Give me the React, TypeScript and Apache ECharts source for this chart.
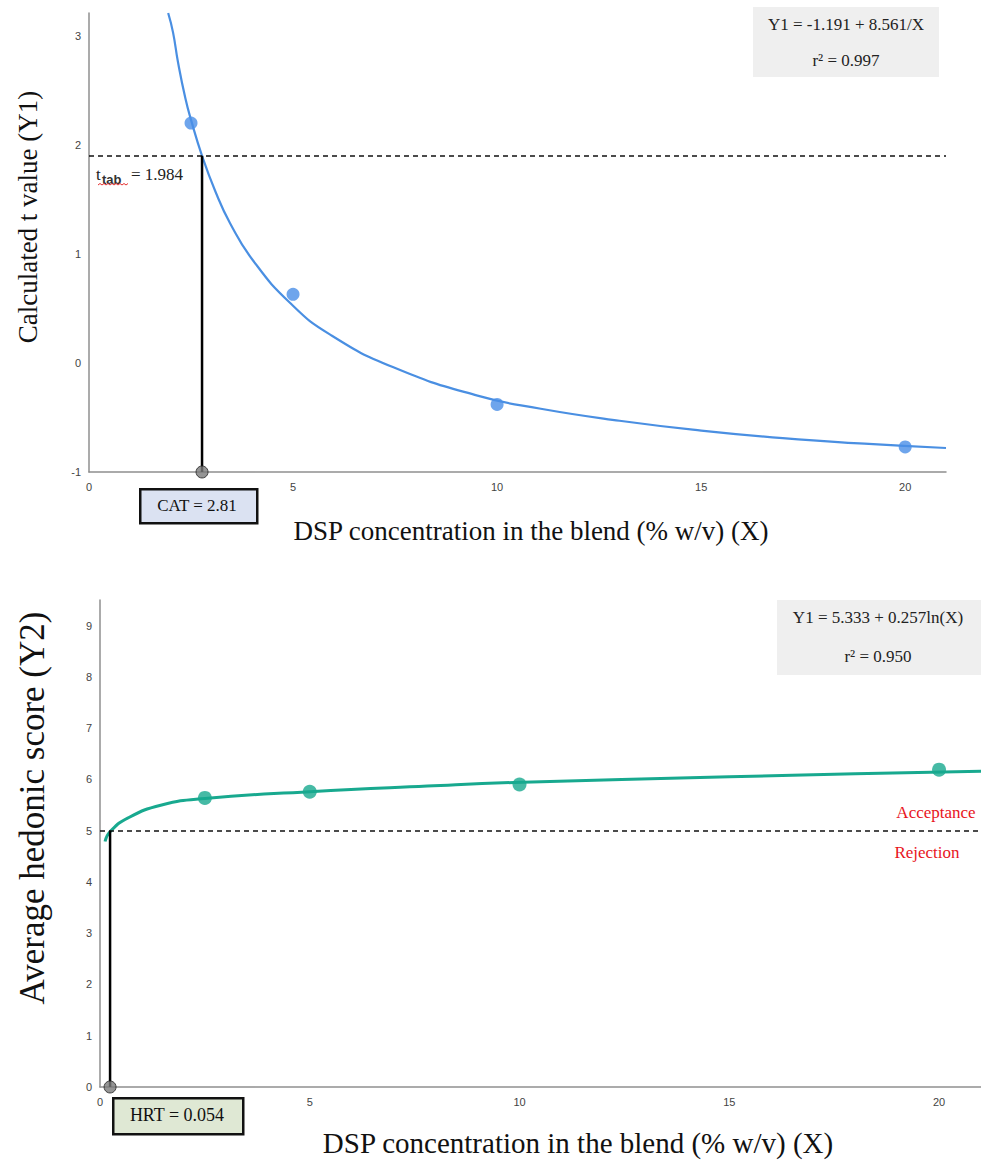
import React, { useEffect, useRef } from "react";
import * as echarts from "echarts";

// ---------- Data ----------
const xTicks = [0, 5, 10, 15, 20];

// Top panel: calculated t value (Y1)
const topObsX = [2.5, 5, 10, 20];
const topObsY = [2.2, 0.63, -0.38, -0.77];
const topFitX = [1.94, 2.06, 2.18, 2.36, 2.5, 2.77, 3.09, 3.46, 4.02, 4.93, 5.91, 7.46, 9.52, 11.07, 13, 15, 17, 19, 21];
const topFitY = [3.21, 3.03, 2.76, 2.43, 2.23, 1.9, 1.58, 1.28, 0.94, 0.55, 0.26, -0.04, -0.3, -0.42, -0.53, -0.62, -0.69, -0.74, -0.78];
const tTabLine = 1.9; // drawn position of t_tab = 1.984
const catX = 2.77; // drawn position of CAT = 2.81

// Bottom panel: average hedonic score (Y2)
const botObsX = [2.5, 5, 10, 20];
const botObsY = [5.64, 5.76, 5.9, 6.19];
const botFitX = [0.12, 0.24, 0.67, 1.47, 2.5, 5, 7.8, 9.87, 15, 18, 21];
const botFitY = [4.79, 4.98, 5.25, 5.5, 5.63, 5.76, 5.87, 5.94, 6.05, 6.11, 6.16];
const acceptLine = 5.0;
const hrtX = 0.24; // drawn position of HRT = 0.054

const SERIF = "'Liberation Serif', 'Times New Roman', serif";
const SANS = "'Liberation Sans', Arial, sans-serif";

const zip = (xs: number[], ys: number[]) => xs.map((x, i) => [x, ys[i]]);

export default function App() {
  const ref = useRef<HTMLDivElement>(null);

  useEffect(() => {
    if (!ref.current) return;
    const chart = echarts.init(ref.current, undefined, { renderer: "svg" });

    const axisLine = { show: true, onZero: false, lineStyle: { color: "#8f8f8f", width: 1.5 } };
    const tickLabel = { color: "#444", fontSize: 11, fontFamily: SANS };

    const xAxisBase = (grid: number) => ({
      type: "value",
      gridIndex: grid,
      min: 0,
      max: 21,
      interval: 5,
      axisLine,
      axisTick: { show: false },
      splitLine: { show: false },
      axisLabel: {
        ...tickLabel,
        margin: 9,
        showMaxLabel: false,
        formatter: (v: number) => (xTicks.includes(v) ? String(v) : ""),
      },
    });

    const yAxisBase = (grid: number, min: number, max: number) => ({
      type: "value",
      gridIndex: grid,
      min,
      max,
      interval: 1,
      axisLine,
      axisTick: { show: false },
      splitLine: { show: false },
      axisLabel: {
        ...tickLabel,
        margin: 8,
        showMaxLabel: false,
        formatter: (v: number) => (Number.isInteger(v) ? String(v) : ""),
      },
    });

    const txt = (x: number, y: number, text: string, size: number, fill = "#111", extra: any = {}) => ({
      type: "text",
      x,
      y,
      z: 8,
      ...extra,
      style: { text, font: `${size}px ${SERIF}`, fill, align: "center", verticalAlign: "middle" },
    });

    const option: any = {
      animation: false,
      backgroundColor: "#fff",
      grid: [
        { left: 89, right: 35, top: 13, bottom: 695 },
        { left: 100, right: 0, top: 600, bottom: 80 },
      ],
      xAxis: [xAxisBase(0), xAxisBase(1)],
      yAxis: [yAxisBase(0, -1, 3.21), yAxisBase(1, 0, 9.5)],
      series: [
        // ---- top panel ----
        {
          type: "line",
          xAxisIndex: 0,
          yAxisIndex: 0,
          data: zip(topFitX, topFitY),
          smooth: 0.5,
          symbol: "none",
          lineStyle: { color: "#4a8fe2", width: 2.2 },
          z: 3,
          markLine: {
            silent: true,
            symbol: "none",
            label: { show: false },
            lineStyle: { color: "#111", type: [5, 4], width: 1.5 },
            data: [{ yAxis: tTabLine }],
          },
        },
        {
          type: "scatter",
          xAxisIndex: 0,
          yAxisIndex: 0,
          data: zip(topObsX, topObsY),
          symbolSize: 13,
          itemStyle: { color: "#4a8fe7" },
          z: 4,
        },
        {
          type: "line",
          xAxisIndex: 0,
          yAxisIndex: 0,
          data: [
            [catX, tTabLine],
            [catX, -1],
          ],
          symbol: "none",
          lineStyle: { color: "#000", width: 2.5 },
          z: 5,
        },
        {
          type: "scatter",
          xAxisIndex: 0,
          yAxisIndex: 0,
          data: [[catX, -1]],
          clip: false,
          symbolSize: 12,
          itemStyle: { color: "#7b7b7b", borderColor: "#222", borderWidth: 1 },
          z: 6,
        },
        // ---- bottom panel ----
        {
          type: "line",
          xAxisIndex: 1,
          yAxisIndex: 1,
          data: zip(botFitX, botFitY),
          smooth: 0.5,
          symbol: "none",
          lineStyle: { color: "#18a98f", width: 3 },
          z: 3,
          markLine: {
            silent: true,
            symbol: "none",
            label: { show: false },
            lineStyle: { color: "#111", type: [5, 4], width: 1.5 },
            data: [{ yAxis: acceptLine }],
          },
        },
        {
          type: "scatter",
          xAxisIndex: 1,
          yAxisIndex: 1,
          data: zip(botObsX, botObsY),
          symbolSize: 14,
          itemStyle: { color: "#18a98f" },
          z: 4,
        },
        {
          type: "line",
          xAxisIndex: 1,
          yAxisIndex: 1,
          data: [
            [hrtX, acceptLine],
            [hrtX, 0],
          ],
          symbol: "none",
          lineStyle: { color: "#000", width: 2.5 },
          z: 5,
        },
        {
          type: "scatter",
          xAxisIndex: 1,
          yAxisIndex: 1,
          data: [[hrtX, 0]],
          clip: false,
          symbolSize: 12,
          itemStyle: { color: "#7b7b7b", borderColor: "#222", borderWidth: 1 },
          z: 6,
        },
      ],
      graphic: [
        // axis titles
        txt(531, 531, "DSP concentration in the blend (% w/v) (X)", 27),
        txt(578, 1143, "DSP concentration in the blend (% w/v) (X)", 29),
        txt(28, 217, "Calculated t value (Y1)", 27, "#111", { rotation: Math.PI / 2 }),
        txt(32, 808, "Average hedonic score (Y2)", 35, "#111", { rotation: Math.PI / 2 }),
        // top equation box
        { type: "rect", left: 753, top: 7, shape: { width: 186, height: 70 }, style: { fill: "#efefef" }, z: 1 },
        txt(846, 24, "Y1 = -1.191 + 8.561/X", 17, "#222"),
        txt(846, 60, "r² = 0.997", 17, "#222"),
        // t_tab label
        { type: "text", x: 96, y: 174, style: { text: "t", font: `17px ${SERIF}`, fill: "#222", align: "left", verticalAlign: "middle" }, z: 7 },
        { type: "text", x: 102, y: 179, style: { text: "tab", font: `bold 13px ${SANS}`, fill: "#333", align: "left", verticalAlign: "middle" }, z: 7 },
        {
          type: "polyline",
          shape: { points: [[98, 185], [100, 183.5], [102, 185], [104, 183.5], [106, 185], [108, 183.5], [110, 185], [112, 183.5], [114, 185], [116, 183.5], [118, 185], [120, 183.5], [122, 185], [124, 183.5], [126, 185], [128, 183.5]] },
          style: { stroke: "#e53030", lineWidth: 1, fill: null },
          z: 7,
        },
        { type: "text", x: 131, y: 174, style: { text: "= 1.984", font: `17px ${SERIF}`, fill: "#222", align: "left", verticalAlign: "middle" }, z: 7 },
        // CAT box
        { type: "rect", left: 139, top: 488, shape: { width: 117, height: 34 }, style: { fill: "#dbe2f2", stroke: "#111", lineWidth: 2.5 }, z: 7 },
        txt(197, 505, "CAT = 2.81", 17),
        // bottom equation box
        { type: "rect", left: 777, top: 600, shape: { width: 204, height: 75 }, style: { fill: "#efefef" }, z: 1 },
        txt(878, 617, "Y1 = 5.333 + 0.257ln(X)", 17, "#222"),
        txt(878, 656, "r² = 0.950", 17, "#222"),
        // acceptance / rejection
        txt(936, 812, "Acceptance", 17, "#e8141c"),
        txt(927, 852, "Rejection", 17, "#e8141c"),
        // HRT box
        { type: "rect", left: 112, top: 1097, shape: { width: 130, height: 36 }, style: { fill: "#dfe8d4", stroke: "#111", lineWidth: 2.5 }, z: 7 },
        txt(177, 1115, "HRT = 0.054", 18),
      ],
    };

    chart.setOption(option);
    return () => chart.dispose();
  }, []);

  return (
    <div
      ref={ref}
      style={{ position: "absolute", left: 0, top: 0, width: 981, height: 1167, background: "#fff" }}
    />
  );
}
